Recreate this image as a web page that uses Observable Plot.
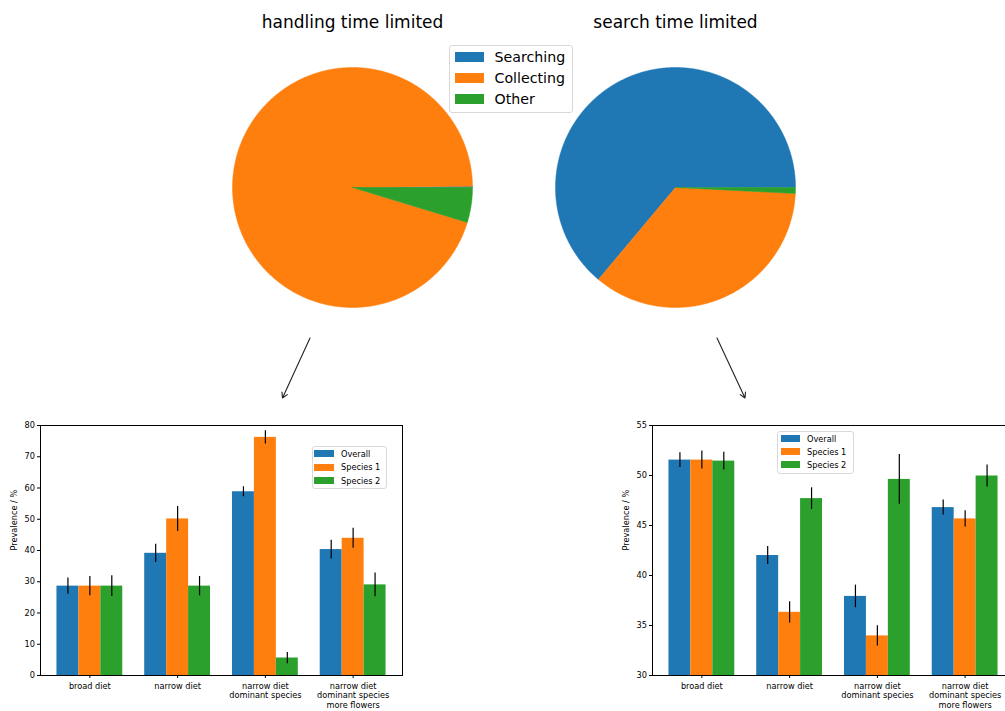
<!DOCTYPE html>
<html>
<head>
<meta charset="utf-8">
<script src="https://cdn.jsdelivr.net/npm/d3@7"></script>
<script src="https://cdn.jsdelivr.net/npm/@observablehq/plot@0.6"></script>
<style>
  html, body { margin: 0; padding: 0; background: #fff; }
  #fig { position: relative; width: 1005px; height: 711px; overflow: hidden; background: #fff;
         font-family: "DejaVu Sans", sans-serif; color: #000; }
  .panel { position: absolute; }
  .legend { position: absolute; box-sizing: border-box; border: 1px solid #d9d9d9; border-radius: 3px;
            background: rgba(255,255,255,0.85); }
  .legend .row { position: absolute; display: flex; align-items: center; white-space: nowrap; }
  .legend .sw { display: inline-block; flex: none; }
</style>
</head>
<body>
<div id="fig"></div>
<script>
// ---- time budget pies (shares in %) ----
const pieLabels = ["Searching", "Collecting", "Other"];
const pieColors = ["#1f77b4", "#ff7f0e", "#2ca02c"];
const handlingShares = [0.15, 95.15, 4.7];
const searchShares = [63.9, 35.3, 0.8];
const pieTitles = ["handling time limited", "search time limited"];

// ---- prevalence bars ----
const dietLabels = ["broad diet", "narrow diet", "narrow diet\ndominant species", "narrow diet\ndominant species\nmore flowers"];
const seriesLabels = ["Overall", "Species 1", "Species 2"];
const seriesColors = ["#1f77b4", "#ff7f0e", "#2ca02c"];

const handlingOverall = [28.6, 39.1, 58.8, 40.3];
const handlingOverallErr = [2.6, 2.9, 1.6, 3.0];
const handlingSpecies1 = [28.6, 50.1, 76.2, 43.9];
const handlingSpecies1Err = [3.1, 4.0, 2.1, 3.2];
const handlingSpecies2 = [28.6, 28.6, 5.6, 29.0];
const handlingSpecies2Err = [3.3, 3.1, 1.8, 3.8];

const searchOverall = [51.54, 42.0, 37.91, 46.79];
const searchOverallErr = [0.73, 0.91, 1.13, 0.75];
const searchSpecies1 = [51.54, 36.32, 33.96, 45.66];
const searchSpecies1Err = [0.9, 1.06, 1.01, 0.81];
const searchSpecies2 = [51.44, 47.69, 49.61, 49.95];
const searchSpecies2Err = [0.88, 1.08, 2.49, 1.11];

const handlingTicks = [0, 10, 20, 30, 40, 50, 60, 70, 80];
const searchTicks = [30, 35, 40, 45, 50, 55];

// arrows leading from each pie down to its bar panel
const arrowLinks = [
  {x1: 309.5, y1: 337.5, x2: 282, y2: 397.5},
  {x1: 716.5, y1: 337.5, x2: 744.5, y2: 397.5}
];

const fig = document.getElementById("fig");

function place(node, left, top) {
  node.classList.add("panel");
  node.style.left = left + "px";
  node.style.top = top + "px";
  fig.appendChild(node);
}

// Pie drawn as filled polygons: wedges go counter-clockwise from 3 o'clock.
function pieChart(shares, title) {
  const total = d3.sum(shares);
  const pts = [];
  let a0 = 0;
  shares.forEach((v, k) => {
    const a1 = a0 + (v / total) * 2 * Math.PI;
    const n = Math.max(2, Math.ceil((a1 - a0) / (Math.PI / 360)));
    pts.push({label: pieLabels[k], x: 0, y: 0});
    for (let j = 0; j <= n; ++j) {
      const a = a0 + (a1 - a0) * j / n;
      pts.push({label: pieLabels[k], x: Math.cos(a), y: Math.sin(a)});
    }
    pts.push({label: pieLabels[k], x: 0, y: 0});
    a0 = a1;
  });
  const R = 130 / 120;
  return Plot.plot({
    width: 260, height: 310,
    marginTop: 50, marginBottom: 0, marginLeft: 0, marginRight: 0,
    style: {fontFamily: "DejaVu Sans", background: "transparent", overflow: "visible"},
    x: {domain: [-R, R], axis: null},
    y: {domain: [-R, R], axis: null},
    color: {domain: pieLabels, range: pieColors},
    marks: [
      Plot.line(pts, {x: "x", y: "y", z: "label", fill: "label", stroke: "label", strokeWidth: 0.5, curve: "linear"}),
      Plot.text([title], {text: d => d, frameAnchor: "top", dy: -35, fontSize: 17, fill: "#000", lineAnchor: "middle"})
    ]
  });
}

function barRows(values, errs) {
  const rows = [];
  values.forEach((vals, s) => {
    vals.forEach((v, i) => {
      rows.push({diet: i, series: seriesLabels[s], value: v, err: errs[s][i], cx: i + (s - 1) * 0.25});
    });
  });
  return rows;
}

function barChart(rows, yDomain, ticks, marginLeft, marginRight, width) {
  return Plot.plot({
    width, height: 300,
    marginTop: 15, marginBottom: 35, marginLeft, marginRight,
    style: {fontFamily: "DejaVu Sans", fontSize: "8.2px", color: "#000", background: "transparent", overflow: "visible"},
    x: {domain: [-0.5625, 3.5625], axis: null},
    y: {domain: yDomain, axis: null},
    color: {domain: seriesLabels, range: seriesColors},
    marks: [
      Plot.rectY(rows, {x1: d => d.cx - 0.125, x2: d => d.cx + 0.125, y: "value", fill: "series", clip: true}),
      Plot.ruleX(rows, {x: "cx", y1: d => d.value - d.err, y2: d => d.value + d.err, stroke: "#000", strokeWidth: 1.2}),
      Plot.frame({stroke: "#000", strokeWidth: 1}),
      Plot.axisY({ticks, tickSize: 3, tickPadding: 2.5, fontSize: 8.2, label: null}),
      Plot.axisX({ticks: [0, 1, 2, 3], tickFormat: i => dietLabels[i], tickSize: 3, tickPadding: 3,
                  fontSize: 8.2, lineHeight: 1.2, label: null}),
      Plot.text(["Prevalence / %"], {text: d => d, frameAnchor: "left", rotate: -90, dx: -26, fontSize: 8.2, fill: "#000"})
    ]
  });
}

function legendBox(labels, colors, o) {
  const box = document.createElement("div");
  box.className = "legend";
  Object.assign(box.style, {left: o.left + "px", top: o.top + "px", width: o.width + "px", height: o.height + "px",
                            fontSize: o.fontSize + "px"});
  labels.forEach((lab, k) => {
    const row = document.createElement("div");
    row.className = "row";
    Object.assign(row.style, {left: o.padL + "px", top: (o.firstY + k * o.rowH - o.rowH / 2) + "px", height: o.rowH + "px"});
    const sw = document.createElement("span");
    sw.className = "sw";
    Object.assign(sw.style, {width: o.swW + "px", height: o.swH + "px", background: colors[k], marginRight: o.gap + "px"});
    const tx = document.createElement("span");
    tx.textContent = lab;
    row.appendChild(sw);
    row.appendChild(tx);
    box.appendChild(row);
  });
  fig.appendChild(box);
}

// top row: pies
place(pieChart(handlingShares, pieTitles[0]), 222, 7);
place(pieChart(searchShares, pieTitles[1]), 545, 7);
legendBox(pieLabels, pieColors, {left: 449, top: 45, width: 124, height: 68, fontSize: 14.2,
                                 padL: 5, firstY: 11, rowH: 21, swW: 29, swH: 10.5, gap: 10.5});

// bottom row: bars
const handlingRows = barRows([handlingOverall, handlingSpecies1, handlingSpecies2],
                             [handlingOverallErr, handlingSpecies1Err, handlingSpecies2Err]);
const searchRows = barRows([searchOverall, searchSpecies1, searchSpecies2],
                           [searchOverallErr, searchSpecies1Err, searchSpecies2Err]);
place(barChart(handlingRows, [0, 80], handlingTicks, 40, 8, 410), 0, 410);
place(barChart(searchRows, [30, 55], searchTicks, 57, 1, 420), 595, 410);

legendBox(seriesLabels, seriesColors, {left: 312, top: 446, width: 75, height: 43, fontSize: 8.2,
                                       padL: 1, firstY: 6.5, rowH: 13.5, swW: 20, swH: 7, gap: 7});
legendBox(seriesLabels, seriesColors, {left: 777, top: 431, width: 77, height: 43, fontSize: 8.2,
                                       padL: 2.5, firstY: 6.5, rowH: 13, swW: 19.5, swH: 7, gap: 7});

// connecting arrows
const overlay = Plot.plot({
  width: 1005, height: 711, margin: 0,
  style: {background: "transparent", overflow: "visible"},
  x: {domain: [0, 1005], range: [0, 1005], axis: null},
  y: {domain: [0, 711], range: [0, 711], axis: null},
  marks: [
    Plot.arrow(arrowLinks, {x1: "x1", y1: "y1", x2: "x2", y2: "y2", stroke: "#222", strokeWidth: 1.1,
                            headLength: 8, headAngle: 60})
  ]
});
overlay.style.pointerEvents = "none";
place(overlay, 0, 0);
</script>
</body>
</html>
